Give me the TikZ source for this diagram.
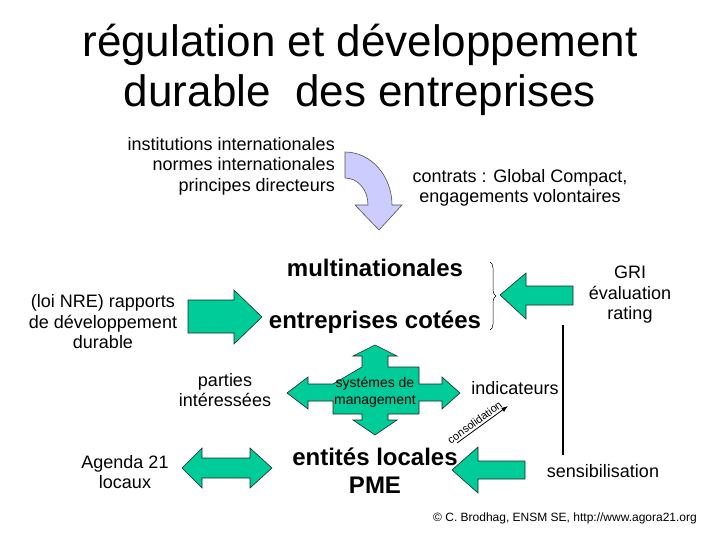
\documentclass[tikz,border=0pt]{standalone}
\usepackage{fontspec}
\setmainfont{Liberation Sans}
\usetikzlibrary{arrows.meta,decorations.pathreplacing}
\definecolor{ink}{HTML}{1E2A22}
\definecolor{leaf}{HTML}{00CC99}
\definecolor{lilac}{HTML}{CCCCFF}
\tikzset{>=Latex,
  block/.style={draw=ink,fill=leaf,line width=0.6pt},
  bent/.style={draw=ink!80,fill=lilac,line width=0.6pt},
  head/.style={font=\fontsize{44}{50}\selectfont,align=center,inner sep=0pt},
  txt/.style={font=\fontsize{18}{20.5}\selectfont,align=center,inner sep=0pt},
  big/.style={font=\fontsize{24}{28}\selectfont\bfseries,align=center,inner sep=0pt},
  small/.style={font=\fontsize{14}{17}\selectfont,align=center,inner sep=0pt},
  note/.style={font=\fontsize{12}{14}\selectfont,inner sep=0pt}}

\begin{document}
\begin{tikzpicture}[x=1pt,y=-1pt]
  \useasboundingbox (0,0) rectangle (720,540);
  % title
  \node[head] (title) at (360,70) {régulation et développement\\durable\ \ des entreprises};
  % curved arrow
  \draw[bent] (345,152) .. controls (371,152) and (392,176) .. (392,205) -- (402,205)
    -- (379,230) -- (355,205) -- (368,205) .. controls (368,190) and (358,178) .. (345,178) -- cycle;
  \node[txt,align=right,anchor=east] (inst) at (335,166) {institutions internationales\\normes internationales\\principes directeurs};
  \node[txt] (contrats) at (520,188) {contrats : Global Compact,\\engagements volontaires};
  % companies
  \node[big] (multi) at (375,268) {multinationales};
  \node[big] (cotees) at (375,322) {entreprises cotées};
  \draw[decorate,decoration={brace,amplitude=6pt},line width=0.5pt] (490,262) -- (490,330);
  \draw[block] (573,286) -- (526,286) -- (526,273) -- (500,295) -- (526,319) -- (526,305) -- (573,305) -- cycle;
  \node[txt] (gri) at (630,295) {GRI\\évaluation\\rating};
  \draw[block] (188,300) -- (234,300) -- (234,290) -- (262,317) -- (234,344) -- (234,333) -- (188,333) -- cycle;
  \node[txt] (nre) at (103,322) {(loi NRE) rapports\\de développement\\durable};
  % management cross
  \draw[block] (362,367) -- (362,356) -- (353,356) -- (375,345) -- (397,356) -- (388,356) -- (388,367)
    -- (419,367) -- (419,384) -- (442,384) -- (442,377) -- (460,393) -- (442,409) -- (442,401) -- (419,401)
    -- (419,414) -- (388,414) -- (388,420) -- (397,420) -- (375,435) -- (353,420) -- (362,420) -- (362,414)
    -- (333,414) -- (333,401) -- (308,401) -- (308,409) -- (287,393) -- (308,377) -- (308,384) -- (333,384) -- cycle;
  \node[small] (sys) at (375,392) {systémes de\\management};
  \node[txt] (parties) at (225,390) {parties\\intéressées};
  \node[txt] (ind) at (515,388) {indicateurs};
  \coordinate (c1) at (457,443);
  \coordinate (c2) at (508,406);
  \draw[->,line width=0.8pt] (c1) -- node[note,font=\fontsize{11}{13}\selectfont,sloped,above=2pt,pos=0.42] {consolidation} (c2);
  \draw[line width=1.1pt] (563,325) -- (563,455);
  % local level
  \node[big] (ent) at (375,471) {entités locales\\PME};
  \draw[block] (182,468) -- (202,448) -- (202,458) -- (250,458) -- (250,448) -- (272,468) -- (250,488)
    -- (250,478) -- (202,478) -- (202,488) -- cycle;
  \node[txt] (agenda) at (125,472) {Agenda 21\\locaux};
  \draw[block] (525,461) -- (478,461) -- (478,447) -- (452,470) -- (478,493) -- (478,479) -- (525,479) -- cycle;
  \node[txt] (sens) at (603,471) {sensibilisation};
  \node[note] (copy) at (565,518) {© C. Brodhag, ENSM SE, http://www.agora21.org};
\end{tikzpicture}
\end{document}
